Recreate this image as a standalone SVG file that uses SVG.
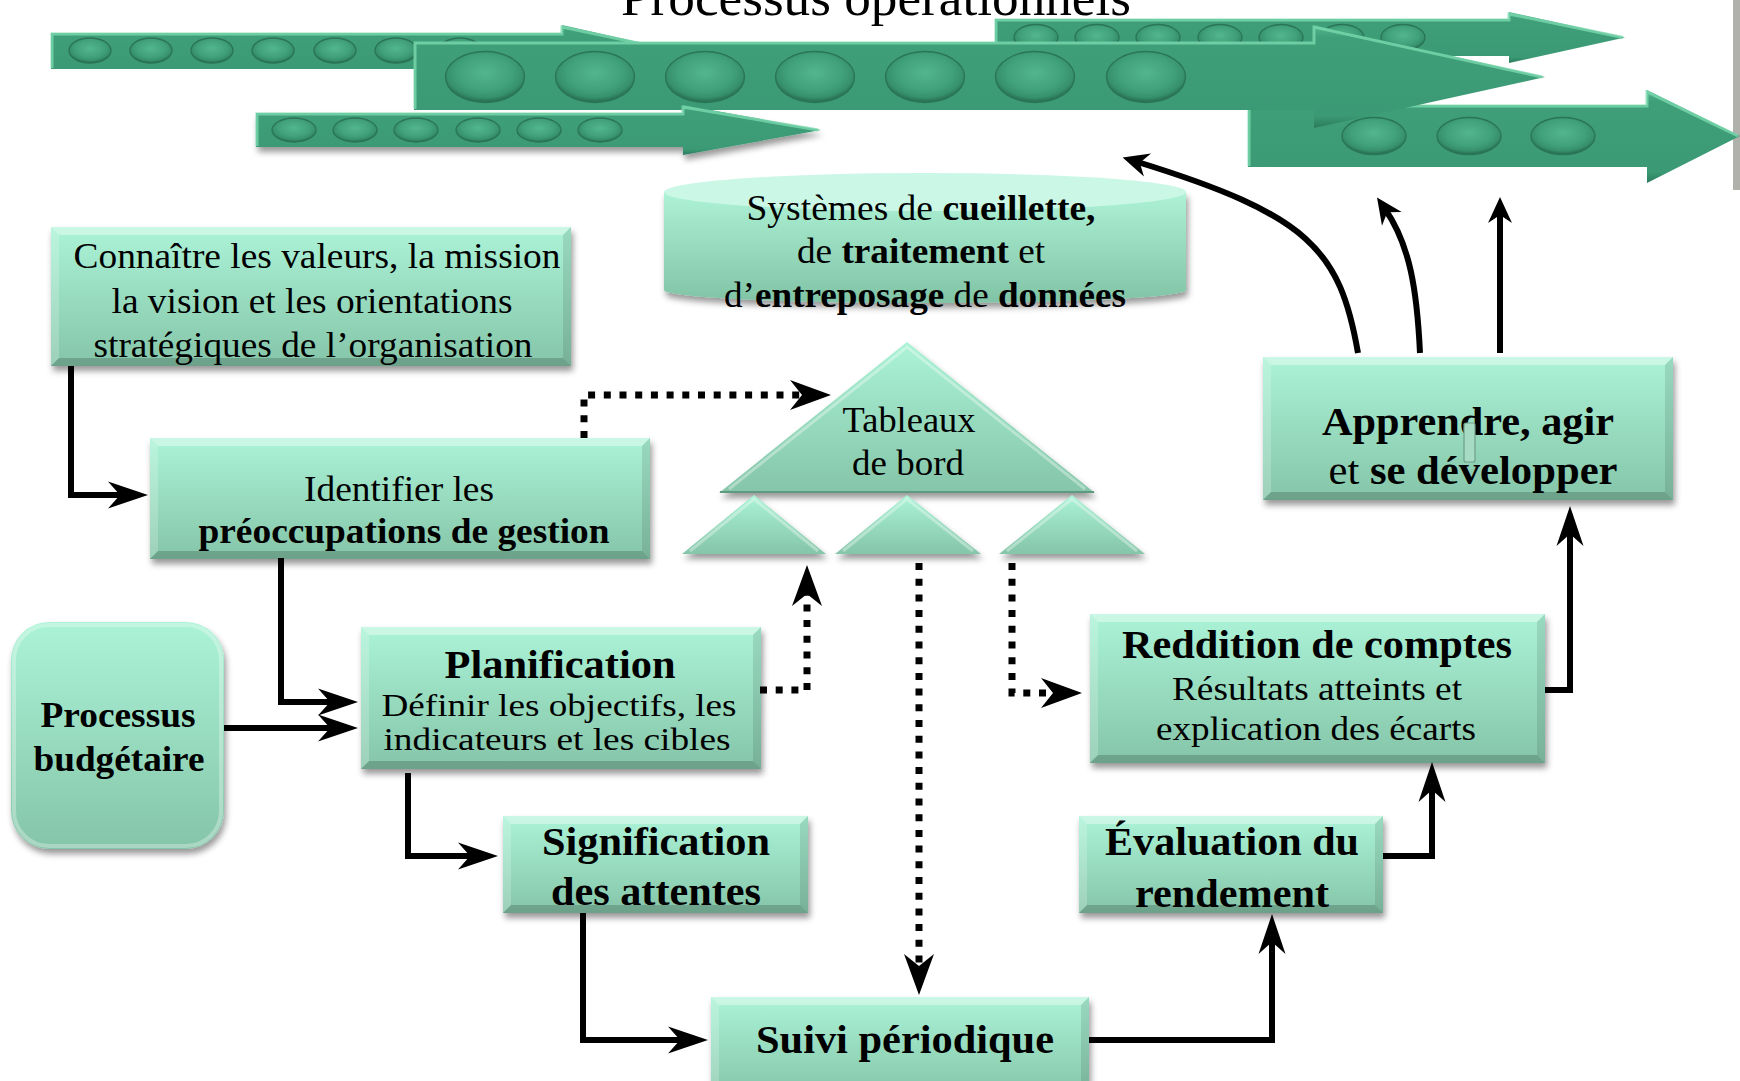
<svg xmlns="http://www.w3.org/2000/svg" width="1740" height="1081" viewBox="0 0 1740 1081">
<defs>
<style>
text{font-family:"Liberation Serif","Times New Roman",serif;fill:#000;text-anchor:middle}
.b{font-weight:bold}
.box{fill:url(#gBox);filter:url(#sh)}
.bt{fill:#fff;opacity:.38}.bl{fill:#fff;opacity:.2}.br{fill:#000;opacity:.1}.bb{fill:#000;opacity:.18}
.arr{fill:url(#gArr)}
.hl{fill:none;stroke:#7bd8ae;stroke-width:3;opacity:.8}
.bead{fill:url(#gBead);stroke:#2a7457;stroke-width:1.3}
.tri{fill:url(#gBox);filter:url(#sh)}
.ln{fill:none;stroke:#000;stroke-width:6;stroke-linejoin:miter}
.lnc{fill:none;stroke:#000;stroke-width:6;stroke-linecap:butt}
.dl{fill:none;stroke:#000;stroke-width:7;stroke-dasharray:7 8.7}
</style>
<linearGradient id="gBox" x1="0" y1="0" x2="0" y2="1"><stop offset="0" stop-color="#abf3d7"/><stop offset="1" stop-color="#85c5a9"/></linearGradient>
<linearGradient id="gCyl" x1="0" y1="0" x2="0" y2="1"><stop offset="0" stop-color="#aef2d7"/><stop offset="1" stop-color="#80c3a5"/></linearGradient>
<linearGradient id="gArr" x1="0" y1="0" x2="0" y2="1"><stop offset="0" stop-color="#52b78e"/><stop offset="0.12" stop-color="#3f9f79"/><stop offset="0.88" stop-color="#3b9a75"/><stop offset="1" stop-color="#2b7b5c"/></linearGradient>
<radialGradient id="gBead" cx="0.5" cy="0.42" r="0.55"><stop offset="0" stop-color="#52b68d"/><stop offset="0.65" stop-color="#40a07a"/><stop offset="0.88" stop-color="#36906c"/><stop offset="1" stop-color="#2a7457"/></radialGradient>
<filter id="sh" x="-10%" y="-10%" width="120%" height="130%"><feDropShadow dx="2" dy="5" stdDeviation="3" flood-color="#000" flood-opacity="0.4"/></filter>
<marker id="ah" viewBox="-42 -15 44 30" refX="-22" refY="0" markerWidth="44" markerHeight="30" markerUnits="userSpaceOnUse" orient="auto"><path d="M0,0 L-40,-13.5 L-28,0 L-40,13.5 Z" fill="#000"/></marker>
<marker id="ahS" viewBox="-28 -13 30 26" refX="-14" refY="0" markerWidth="30" markerHeight="26" markerUnits="userSpaceOnUse" orient="auto"><path d="M0,0 L-26,-12 L-18,0 L-26,12 Z" fill="#000"/></marker>
<marker id="ahD" viewBox="-44 -17 46 34" refX="-24" refY="0" markerWidth="46" markerHeight="34" markerUnits="userSpaceOnUse" orient="auto"><path d="M0,0 L-41,-15 L-29,0 L-41,15 Z" fill="#000"/></marker>
</defs>

<rect x="1733" y="0" width="7" height="190" fill="#a3a39d" opacity="0.85"/>

<g id="process-arrows">
 <g id="arrow1">
  <polygon class="arr" points="51,33 562,33 562,25 678,51 562,77 562,69 51,69"/>
  <polyline class="hl" points="52,68 52,34 562,34 562,27 676,51"/>
  <ellipse class="bead" cx="90" cy="50.5" rx="21" ry="12.5"/><ellipse class="bead" cx="151" cy="50.5" rx="21" ry="12.5"/><ellipse class="bead" cx="212" cy="50.5" rx="21" ry="12.5"/><ellipse class="bead" cx="273" cy="50.5" rx="21" ry="12.5"/><ellipse class="bead" cx="335" cy="50.5" rx="21" ry="12.5"/><ellipse class="bead" cx="396" cy="50.5" rx="21" ry="12.5"/><ellipse class="bead" cx="460" cy="50.5" rx="21" ry="12.5"/>
 </g>
 <g id="arrow3">
  <polygon class="arr" points="995,19 1509,19 1509,12 1625,37.5 1509,63 1509,56 995,56"/>
  <polyline class="hl" points="996,55 996,20 1509,20 1509,14 1623,37.5"/>
  <ellipse class="bead" cx="1036" cy="37.5" rx="22" ry="13"/><ellipse class="bead" cx="1097" cy="37.5" rx="22" ry="13"/><ellipse class="bead" cx="1158" cy="37.5" rx="22" ry="13"/><ellipse class="bead" cx="1220" cy="37.5" rx="22" ry="13"/><ellipse class="bead" cx="1281" cy="37.5" rx="22" ry="13"/><ellipse class="bead" cx="1342" cy="37.5" rx="22" ry="13"/><ellipse class="bead" cx="1403" cy="37.5" rx="22" ry="13"/>
 </g>
 <g id="arrow4">
  <polygon class="arr" points="1248,105 1647,105 1647,90 1740,136 1647,183 1647,167 1248,167"/>
  <polyline class="hl" points="1249,166 1249,106 1647,106 1647,92 1738,136"/>
  <ellipse class="bead" cx="1374" cy="136" rx="32" ry="18.5"/><ellipse class="bead" cx="1469" cy="136" rx="32" ry="18.5"/><ellipse class="bead" cx="1563" cy="136" rx="32" ry="18.5"/>
 </g>
 <g id="arrow2">
  <polygon class="arr" points="414,42 1314,42 1314,25 1545,77 1314,128 1314,110 414,110"/>
  <polyline class="hl" points="415,109 415,43 1314,43 1314,27 1542,77"/>
  <ellipse class="bead" cx="485" cy="77" rx="39.5" ry="25.5"/><ellipse class="bead" cx="595" cy="77" rx="39.5" ry="25.5"/><ellipse class="bead" cx="705" cy="77" rx="39.5" ry="25.5"/><ellipse class="bead" cx="815" cy="77" rx="39.5" ry="25.5"/><ellipse class="bead" cx="925" cy="77" rx="39.5" ry="25.5"/><ellipse class="bead" cx="1035" cy="77" rx="39.5" ry="25.5"/><ellipse class="bead" cx="1146" cy="77" rx="39.5" ry="25.5"/>
 </g>
 <g id="arrow5">
  <polygon class="arr" points="256,113 683,113 683,105 821,130 683,155 683,147 256,147" filter="url(#sh)"/>
  <polyline class="hl" points="257,146 257,114 683,114 683,107 818,130"/>
  <ellipse class="bead" cx="294" cy="130" rx="22" ry="12"/><ellipse class="bead" cx="355" cy="130" rx="22" ry="12"/><ellipse class="bead" cx="416" cy="130" rx="22" ry="12"/><ellipse class="bead" cx="478" cy="130" rx="22" ry="12"/><ellipse class="bead" cx="539" cy="130" rx="22" ry="12"/><ellipse class="bead" cx="600" cy="130" rx="22" ry="12"/>
 </g>
</g>

<text id="title" x="876" y="15" font-size="52" textLength="510" lengthAdjust="spacingAndGlyphs">Processus opérationnels</text>

<g id="data-systems">
 <path d="M664,192 V290 A261,13 0 0 0 1186,290 V192 Z" fill="url(#gCyl)" filter="url(#sh)"/>
 <ellipse cx="925" cy="192" rx="261" ry="19" fill="#cbf8e6"/>
 <text x="921" y="220" font-size="36" textLength="349" lengthAdjust="spacingAndGlyphs">Systèmes de <tspan class="b">cueillette,</tspan></text>
 <text x="921" y="263" font-size="36" textLength="248" lengthAdjust="spacingAndGlyphs">de <tspan class="b">traitement</tspan> et</text>
 <text x="925" y="307" font-size="36" textLength="402" lengthAdjust="spacingAndGlyphs">d’<tspan class="b">entreposage</tspan> de <tspan class="b">données</tspan></text>
</g>

<g id="node-connaitre">
 <rect class="box" x="51" y="227" width="520" height="139"/>
 <path class="bt" d="M51,227H571L563,235H59Z"/><path class="bl" d="M51,227L59,235V358L51,366Z"/><path class="br" d="M571,227V366L563,358V235Z"/><path class="bb" d="M51,366H571L563,358H59Z"/>
 <text x="317" y="268" font-size="36" textLength="487" lengthAdjust="spacingAndGlyphs">Connaître les valeurs, la mission</text>
 <text x="312" y="313" font-size="36" textLength="401" lengthAdjust="spacingAndGlyphs">la vision et les orientations</text>
 <text x="313" y="357" font-size="36" textLength="439" lengthAdjust="spacingAndGlyphs">stratégiques de l’organisation</text>
</g>

<g id="node-identifier">
 <rect class="box" x="150" y="438" width="500" height="121"/>
 <path class="bt" d="M150,438H650L642,446H158Z"/><path class="bl" d="M150,438L158,446V551L150,559Z"/><path class="br" d="M650,438V559L642,551V446Z"/><path class="bb" d="M150,559H650L642,551H158Z"/>
 <text x="399" y="501" font-size="36" textLength="190" lengthAdjust="spacingAndGlyphs">Identifier les</text>
 <text class="b" x="404" y="543" font-size="36" textLength="411" lengthAdjust="spacingAndGlyphs">préoccupations de gestion</text>
</g>

<g id="node-budget">
 <rect x="11" y="622" width="213" height="227" rx="38" fill="url(#gBox)" filter="url(#sh)"/>
 <rect x="14" y="625" width="207" height="221" rx="35" fill="none" stroke="#fff" stroke-opacity="0.3" stroke-width="4"/>
 <text class="b" x="118" y="727" font-size="36" textLength="155" lengthAdjust="spacingAndGlyphs">Processus</text>
 <text class="b" x="119" y="771" font-size="36" textLength="171" lengthAdjust="spacingAndGlyphs">budgétaire</text>
</g>

<g id="node-planification">
 <rect class="box" x="361" y="627" width="400" height="142"/>
 <path class="bt" d="M361,627H761L753,635H369Z"/><path class="bl" d="M361,627L369,635V761L361,769Z"/><path class="br" d="M761,627V769L753,761V635Z"/><path class="bb" d="M361,769H761L753,761H369Z"/>
 <text class="b" x="560" y="678" font-size="40" textLength="231" lengthAdjust="spacingAndGlyphs">Planification</text>
 <text x="559" y="716" font-size="32" textLength="355" lengthAdjust="spacingAndGlyphs">Définir les objectifs, les</text>
 <text x="557" y="750" font-size="32" textLength="347" lengthAdjust="spacingAndGlyphs">indicateurs et les cibles</text>
</g>

<g id="node-signification">
 <rect class="box" x="503" y="816" width="305" height="97"/>
 <path class="bt" d="M503,816H808L800,824H511Z"/><path class="bl" d="M503,816L511,824V905L503,913Z"/><path class="br" d="M808,816V913L800,905V824Z"/><path class="bb" d="M503,913H808L800,905H511Z"/>
 <text class="b" x="656" y="855" font-size="40" textLength="228" lengthAdjust="spacingAndGlyphs">Signification</text>
 <text class="b" x="656" y="905" font-size="40" textLength="210" lengthAdjust="spacingAndGlyphs">des attentes</text>
</g>

<g id="node-suivi">
 <rect class="box" x="711" y="997" width="378" height="100"/>
 <path class="bt" d="M711,997H1089L1081,1005H719Z"/><path class="bl" d="M711,997L719,1005V1089L711,1097Z"/><path class="br" d="M1089,997V1097L1081,1089V1005Z"/>
 <text class="b" x="905" y="1053" font-size="40" textLength="298" lengthAdjust="spacingAndGlyphs">Suivi périodique</text>
</g>

<g id="node-evaluation">
 <rect class="box" x="1079" y="816" width="304" height="97"/>
 <path class="bt" d="M1079,816H1383L1375,824H1087Z"/><path class="bl" d="M1079,816L1087,824V905L1079,913Z"/><path class="br" d="M1383,816V913L1375,905V824Z"/><path class="bb" d="M1079,913H1383L1375,905H1087Z"/>
 <text class="b" x="1232" y="855" font-size="40" textLength="254" lengthAdjust="spacingAndGlyphs">Évaluation du</text>
 <text class="b" x="1232" y="907" font-size="40" textLength="194" lengthAdjust="spacingAndGlyphs">rendement</text>
</g>

<g id="node-reddition">
 <rect class="box" x="1090" y="614" width="455" height="149"/>
 <path class="bt" d="M1090,614H1545L1537,622H1098Z"/><path class="bl" d="M1090,614L1098,622V755L1090,763Z"/><path class="br" d="M1545,614V763L1537,755V622Z"/><path class="bb" d="M1090,763H1545L1537,755H1098Z"/>
 <text class="b" x="1317" y="658" font-size="40" textLength="390" lengthAdjust="spacingAndGlyphs">Reddition de comptes</text>
 <text x="1317" y="700" font-size="34" textLength="290" lengthAdjust="spacingAndGlyphs">Résultats atteints et</text>
 <text x="1316" y="740" font-size="34" textLength="320" lengthAdjust="spacingAndGlyphs">explication des écarts</text>
</g>

<g id="node-apprendre">
 <rect class="box" x="1263" y="357" width="410" height="143"/>
 <path class="bt" d="M1263,357H1673L1665,365H1271Z"/><path class="bl" d="M1263,357L1271,365V492L1263,500Z"/><path class="br" d="M1673,357V500L1665,492V365Z"/><path class="bb" d="M1263,500H1673L1665,492H1271Z"/>
 <text class="b" x="1468" y="435" font-size="40" textLength="292" lengthAdjust="spacingAndGlyphs">Apprendre, agir</text>
 <text x="1473" y="484" font-size="40" textLength="289" lengthAdjust="spacingAndGlyphs">et <tspan class="b">se développer</tspan></text>
 <rect x="1464" y="423" width="11" height="39" rx="2" fill="#a6dcc4" stroke="#6f9f89" stroke-width="1.2"/>
</g>

<g id="node-tableaux">
 <path class="tri" d="M907,342 L1095,493 L719,493 Z"/>
 <polyline points="729,489 907,347 1085,489" fill="none" stroke="#fff" stroke-opacity="0.35" stroke-width="3"/>
 <line x1="720" y1="492" x2="1094" y2="492" stroke="#5f9a80" stroke-width="2"/>
 <path class="tri" d="M754,495 L826,554 L682,554 Z"/>
 <polyline points="690,551 754,499 818,551" fill="none" stroke="#fff" stroke-opacity="0.35" stroke-width="3"/>
 <path class="tri" d="M907,495 L981,554 L835,554 Z"/>
 <polyline points="843,551 907,499 973,551" fill="none" stroke="#fff" stroke-opacity="0.35" stroke-width="3"/>
 <path class="tri" d="M1072,495 L1145,554 L999,554 Z"/>
 <polyline points="1007,551 1072,499 1137,551" fill="none" stroke="#fff" stroke-opacity="0.35" stroke-width="3"/>
 <text x="909" y="432" font-size="36" textLength="133" lengthAdjust="spacingAndGlyphs">Tableaux</text>
 <text x="908" y="475" font-size="36" textLength="112" lengthAdjust="spacingAndGlyphs">de bord</text>
</g>

<g id="connectors">
 <path class="ln" d="M71,366 V495 H126" marker-end="url(#ah)"/>
 <path class="ln" d="M281,558 V702 H336" marker-end="url(#ah)"/>
 <path class="ln" d="M224,728 H336" marker-end="url(#ah)"/>
 <path class="ln" d="M408,773 V856 H476" marker-end="url(#ah)"/>
 <path class="ln" d="M583,913 V1040 H686" marker-end="url(#ah)"/>
 <path class="ln" d="M1089,1040 H1272 V936" marker-end="url(#ah)"/>
 <path class="ln" d="M1383,856 H1432 V784" marker-end="url(#ah)"/>
 <path class="ln" d="M1545,690 H1570 V528" marker-end="url(#ah)"/>
 <path class="lnc" d="M1358,353 C1340,250 1310,215 1136,161.5" marker-end="url(#ahS)"/>
 <path class="lnc" d="M1420,353 C1417,290 1410,245 1385,209" marker-end="url(#ahS)"/>
 <path class="lnc" d="M1500,353 V211" marker-end="url(#ahS)"/>
 <path class="dl" d="M584,438 V395 H807" marker-end="url(#ahD)"/>
 <path class="dl" d="M760,690 H807 V589" marker-end="url(#ahD)"/>
 <path class="dl" d="M919,563 V971" marker-end="url(#ahD)"/>
 <path class="dl" d="M1012,563 V693 H1058" marker-end="url(#ahD)"/>
</g>
</svg>
